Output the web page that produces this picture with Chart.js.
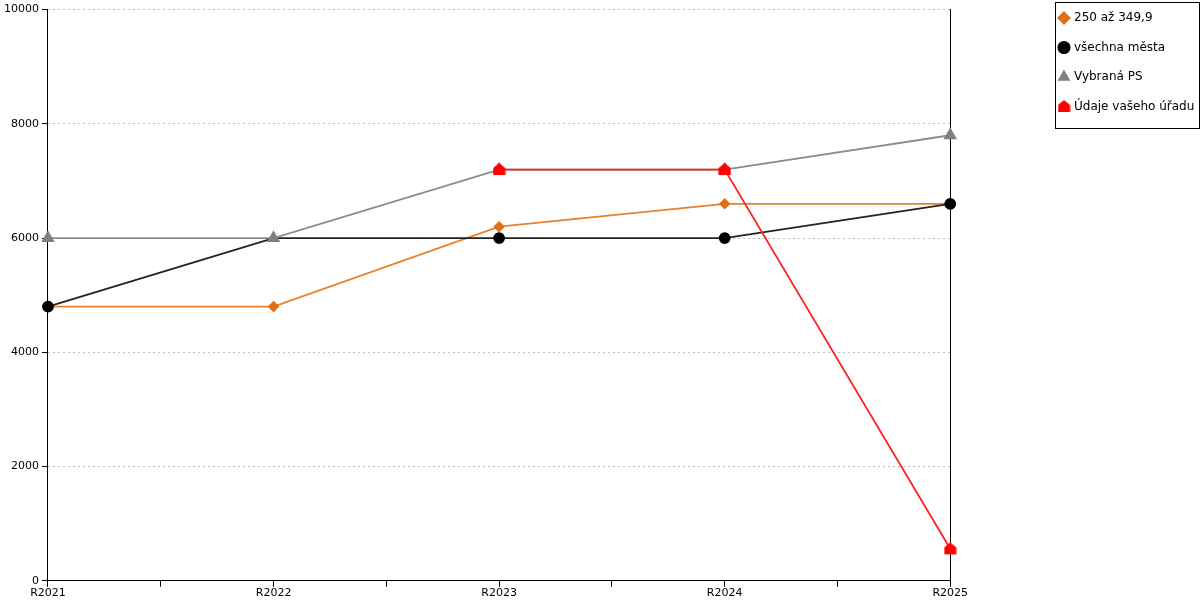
<!DOCTYPE html>
<html>
<head>
<meta charset="utf-8">
<script src="https://cdn.jsdelivr.net/npm/chart.js@4.4.0/dist/chart.umd.min.js"></script>
<style>
  html, body { margin: 0; padding: 0; background: #fff; }
  #wrap { width: 1200px; height: 600px; }
</style>
</head>
<body>
<div id="wrap"><canvas id="chart"></canvas></div>
<script>
const categories = ['R2021', 'R2022', 'R2023', 'R2024', 'R2025'];
const range250 = [4800, 4800, 6200, 6600, 6600];
const allCities = [4800, 6000, 6000, 6000, 6600];
const selectedPS = [6000, 6000, 7200, 7200, 7800];
const yourOffice = [null, null, 7200, 7200, 560];
const yTicks = [0, 2000, 4000, 6000, 8000, 10000];

const LEGEND_PAD = 17.5;

// house-shaped marker for the office series
function houseMarker(color) {
    const c = document.createElement('canvas');
    c.width = 13; c.height = 13;
    const g = c.getContext('2d');
    g.fillStyle = color;
    g.beginPath();
    g.moveTo(6.5, 0);
    g.lineTo(12.5, 5);
    g.lineTo(12.5, 12);
    g.lineTo(0.5, 12);
    g.lineTo(0.5, 5);
    g.closePath();
    g.fill();
    return c;
}

function toPoints(values) {
    return values.map((v, i) => ({ x: i, y: v }));
}

// move the legend to the top right corner and frame it
const legendFrame = {
    id: 'legendFrame',
    afterLayout(chart) {
        const l = chart.legend;
        if (!l) return;
        const dx = (1060 - LEGEND_PAD) - l.left;
        const dy = (12 - LEGEND_PAD) - l.top;
        l.left += dx; l.right += dx;
        l.top += dy; l.bottom += dy;
    },
    afterDraw(chart) {
        const l = chart.legend;
        if (!l || !l.legendHitBoxes.length) return;
        const hb = l.legendHitBoxes;
        const first = hb[0], last = hb[hb.length - 1];
        const right = Math.max(...hb.map(h => h.left + h.width));
        const x1 = Math.round(first.left - 5) + 0.5;
        const y1 = Math.round(first.top - 10) + 0.5;
        const x2 = Math.round(right + 5) + 0.5;
        const y2 = Math.round(last.top + 27) + 0.5;
        const ctx = chart.ctx;
        ctx.save();
        ctx.strokeStyle = '#000';
        ctx.lineWidth = 1;
        ctx.strokeRect(x1, y1, x2 - x1, y2 - y1);
        ctx.restore();
    }
};

const font = { family: 'DejaVu Sans', size: 11 };

new Chart(document.getElementById('chart'), {
    type: 'line',
    data: {
        datasets: [
            {
                label: '250 až 349,9',
                data: toPoints(range250),
                borderColor: '#E8802C',
                backgroundColor: '#E07018',
                pointBackgroundColor: '#E07018',
                pointBorderColor: '#E07018',
                pointStyle: 'rectRot',
                pointRadius: 4.5,
                borderWidth: 1.8,
                clip: false,
                order: 3
            },
            {
                label: 'všechna města',
                data: toPoints(allCities),
                borderColor: '#222',
                backgroundColor: '#000',
                pointBackgroundColor: '#000',
                pointBorderColor: '#000',
                pointStyle: 'circle',
                // the marker at R2022 is hidden under the PS triangle in the original
                pointRadius: ctx => ctx.dataIndex === 1 ? 0 : 5,
                borderWidth: 1.8,
                clip: false,
                order: 2
            },
            {
                label: 'Vybraná PS',
                data: toPoints(selectedPS),
                borderColor: '#8c8c8c',
                backgroundColor: '#7f7f7f',
                pointBackgroundColor: '#7f7f7f',
                pointBorderColor: '#7f7f7f',
                pointStyle: 'triangle',
                pointRadius: 6,
                borderWidth: 1.8,
                clip: false,
                order: 1
            },
            {
                label: 'Údaje vašeho úřadu',
                data: toPoints(yourOffice),
                borderColor: '#ff2020',
                backgroundColor: '#ff0000',
                pointStyle: houseMarker('#ff0000'),
                pointRadius: 5,
                borderWidth: 1.8,
                clip: false,
                order: 0
            }
        ]
    },
    options: {
        responsive: true,
        maintainAspectRatio: false,
        animation: false,
        layout: { padding: { top: 5, right: 2, left: 1, bottom: 0 } },
        plugins: {
            tooltip: { enabled: false },
            legend: {
                position: 'right',
                align: 'start',
                labels: {
                    usePointStyle: true,
                    boxWidth: 8,
                    boxHeight: 8,
                    padding: LEGEND_PAD,
                    color: '#000',
                    font: { family: 'DejaVu Sans', size: 12 },
                    sort: (a, b) => a.datasetIndex - b.datasetIndex
                }
            }
        },
        scales: {
            x: {
                type: 'linear',
                min: 0,
                max: categories.length - 1,
                grid: { drawOnChartArea: false, color: '#000', tickLength: 6 },
                border: { color: '#000', width: 1 },
                ticks: {
                    stepSize: 0.5,
                    autoSkip: false,
                    maxRotation: 0,
                    padding: 0,
                    color: '#000',
                    font: font,
                    callback: v => Number.isInteger(v) ? categories[v] : ''
                }
            },
            y: {
                min: yTicks[0],
                max: yTicks[yTicks.length - 1],
                afterBuildTicks: s => { s.ticks = yTicks.map(v => ({ value: v })); },
                grid: { color: '#bbb', tickColor: '#000', tickLength: 6 },
                border: { color: '#000', width: 1, dash: [2, 3] },
                ticks: { padding: 3, color: '#000', font: font, callback: v => String(v) }
            },
            y2: {
                position: 'right',
                min: 0,
                max: 10000,
                grid: { display: false },
                ticks: { display: false },
                border: { color: '#000', width: 1 },
                afterFit: s => { s.width = 86; }
            }
        }
    },
    plugins: [legendFrame]
});
</script>
</body>
</html>
